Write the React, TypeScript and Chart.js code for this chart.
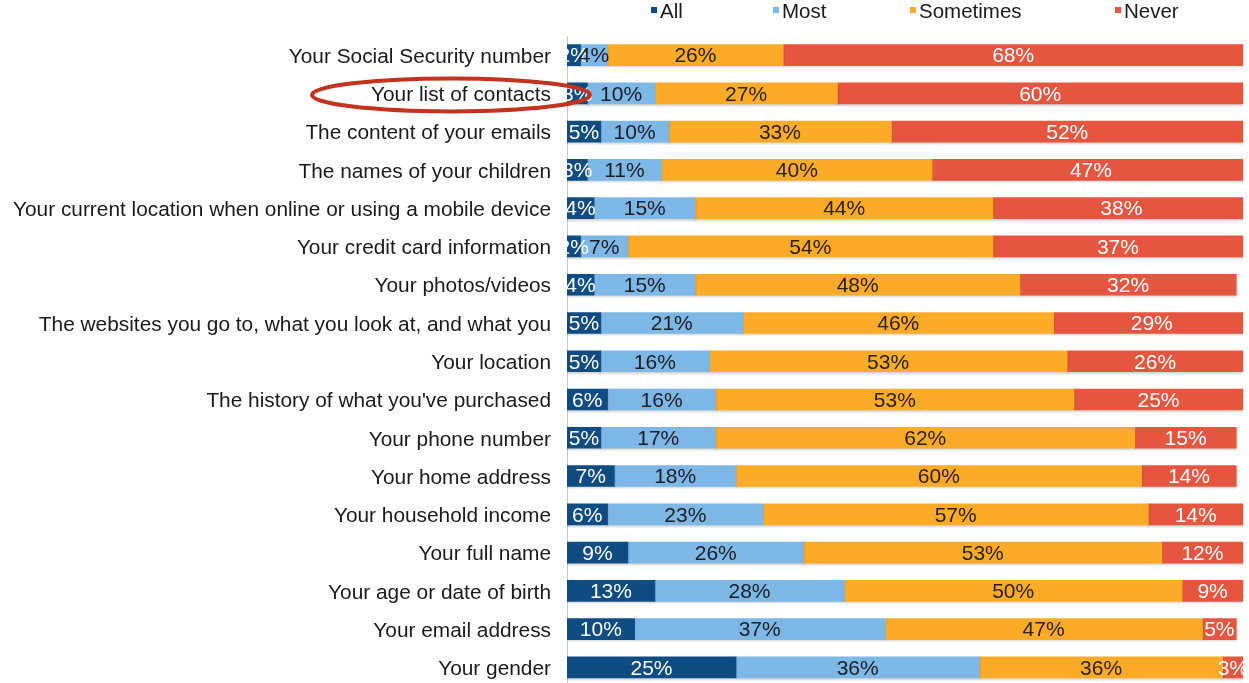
import React, { useEffect, useRef } from "react";
import { Chart, registerables } from "chart.js";

Chart.register(...registerables);

const categories = [
  "Your Social Security number",
  "Your list of contacts",
  "The content of your emails",
  "The names of your children",
  "Your current location when online or using a mobile device",
  "Your credit card information",
  "Your photos/videos",
  "The websites you go to, what you look at, and what you",
  "Your location",
  "The history of what you've purchased",
  "Your phone number",
  "Your home address",
  "Your household income",
  "Your full name",
  "Your age or date of birth",
  "Your email address",
  "Your gender",
];

const allValues = [2, 3, 5, 3, 4, 2, 4, 5, 5, 6, 5, 7, 6, 9, 13, 10, 25];
const mostValues = [4, 10, 10, 11, 15, 7, 15, 21, 16, 16, 17, 18, 23, 26, 28, 37, 36];
const sometimesValues = [26, 27, 33, 40, 44, 54, 48, 46, 53, 53, 62, 60, 57, 53, 50, 47, 36];
const neverValues = [68, 60, 52, 47, 38, 37, 32, 29, 26, 25, 15, 14, 14, 12, 9, 5, 3];

const seriesNames = ["All", "Most", "Sometimes", "Never"];
const highlightedCategory = "Your list of contacts";

const FONT = "'Liberation Sans', Arial, Helvetica, sans-serif";
const barColors = ["#0f4c82", "#7db7e6", "#fbab28", "#e6553f"];
const labelColors = ["#ffffff", "#1c1c24", "#2a2010", "#ffffff"];
const legendX = [651, 773, 910, 1115];

const shadowPlugin = {
  id: "barShadow",
  beforeDatasetsDraw(chart: any) {
    const ctx = chart.ctx;
    ctx.save();
    ctx.shadowColor = "rgba(0,0,0,0.18)";
    ctx.shadowBlur = 2;
    ctx.shadowOffsetY = 1.5;
  },
  afterDatasetsDraw(chart: any) {
    chart.ctx.restore();
  },
};

const segLabelPlugin = {
  id: "segLabels",
  afterDatasetsDraw(chart: any) {
    const ctx = chart.ctx;
    ctx.save();
    ctx.font = `21px ${FONT}`;
    ctx.textAlign = "center";
    ctx.textBaseline = "middle";
    chart.data.datasets.forEach((ds: any, di: number) => {
      const meta = chart.getDatasetMeta(di);
      meta.data.forEach((el: any, i: number) => {
        const p = el.getProps(["x", "base", "y"], true);
        ctx.fillStyle = labelColors[di];
        ctx.fillText(ds.data[i] + "%", (p.x + p.base) / 2, p.y + 1.5);
      });
    });
    ctx.restore();
  },
};

const legendPlugin = {
  id: "customLegend",
  afterDraw(chart: any) {
    const ctx = chart.ctx;
    ctx.save();
    ctx.font = `20.5px ${FONT}`;
    ctx.textAlign = "left";
    ctx.textBaseline = "middle";
    seriesNames.forEach((name, i) => {
      const x = legendX[i];
      ctx.fillStyle = barColors[i];
      ctx.fillRect(x, 7, 6, 6);
      ctx.fillStyle = "#1a1a1a";
      ctx.fillText(name, x + 9, 12.5);
    });
    ctx.restore();
  },
};

const ellipsePlugin = {
  id: "highlightEllipse",
  afterDraw(chart: any) {
    const idx = categories.indexOf(highlightedCategory);
    if (idx < 0) return;
    const y = chart.scales.y.getPixelForValue(idx);
    const ctx = chart.ctx;
    ctx.save();
    ctx.beginPath();
    ctx.ellipse(451, y + 1.5, 139, 16.5, 0, 0, Math.PI * 2);
    ctx.strokeStyle = "#c3321f";
    ctx.lineWidth = 4;
    ctx.stroke();
    ctx.restore();
  },
};

export default function App() {
  const ref = useRef<HTMLCanvasElement>(null);

  useEffect(() => {
    if (!ref.current) return;
    const seriesValues = [allValues, mostValues, sometimesValues, neverValues];
    const chart = new Chart(ref.current, {
      type: "bar",
      data: {
        labels: categories,
        datasets: seriesNames.map((name, i) => ({
          label: name,
          data: seriesValues[i],
          backgroundColor: barColors[i],
          borderWidth: 0,
          barThickness: 21,
        })),
      },
      options: {
        indexAxis: "y",
        animation: false,
        responsive: false,
        maintainAspectRatio: false,
        devicePixelRatio: 1,
        layout: { padding: { top: 36, bottom: 0, left: 0, right: 6 } },
        plugins: {
          legend: { display: false },
          tooltip: { enabled: false },
        },
        scales: {
          x: { stacked: true, min: 0, max: 100, display: false },
          y: {
            stacked: true,
            grid: { display: false, drawTicks: false },
            border: { display: true, color: "#c8c8c8", width: 1 },
            ticks: {
              padding: 16,
              labelOffset: 2,
              color: "#1a1a1a",
              font: { size: 20.85, family: FONT },
              autoSkip: false,
            },
            afterFit(scale: any) {
              scale.width = 567;
            },
          },
        },
      } as any,
      plugins: [shadowPlugin, segLabelPlugin, legendPlugin, ellipsePlugin],
    });
    return () => chart.destroy();
  }, []);

  return (
    <div
      style={{
        position: "fixed",
        left: 0,
        top: 0,
        width: 1249,
        height: 683,
        overflow: "hidden",
        background: "#ffffff",
      }}
    >
      <canvas
        ref={ref}
        width={1249}
        height={715}
        style={{ display: "block", width: 1249, height: 715 }}
      />
    </div>
  );
}
